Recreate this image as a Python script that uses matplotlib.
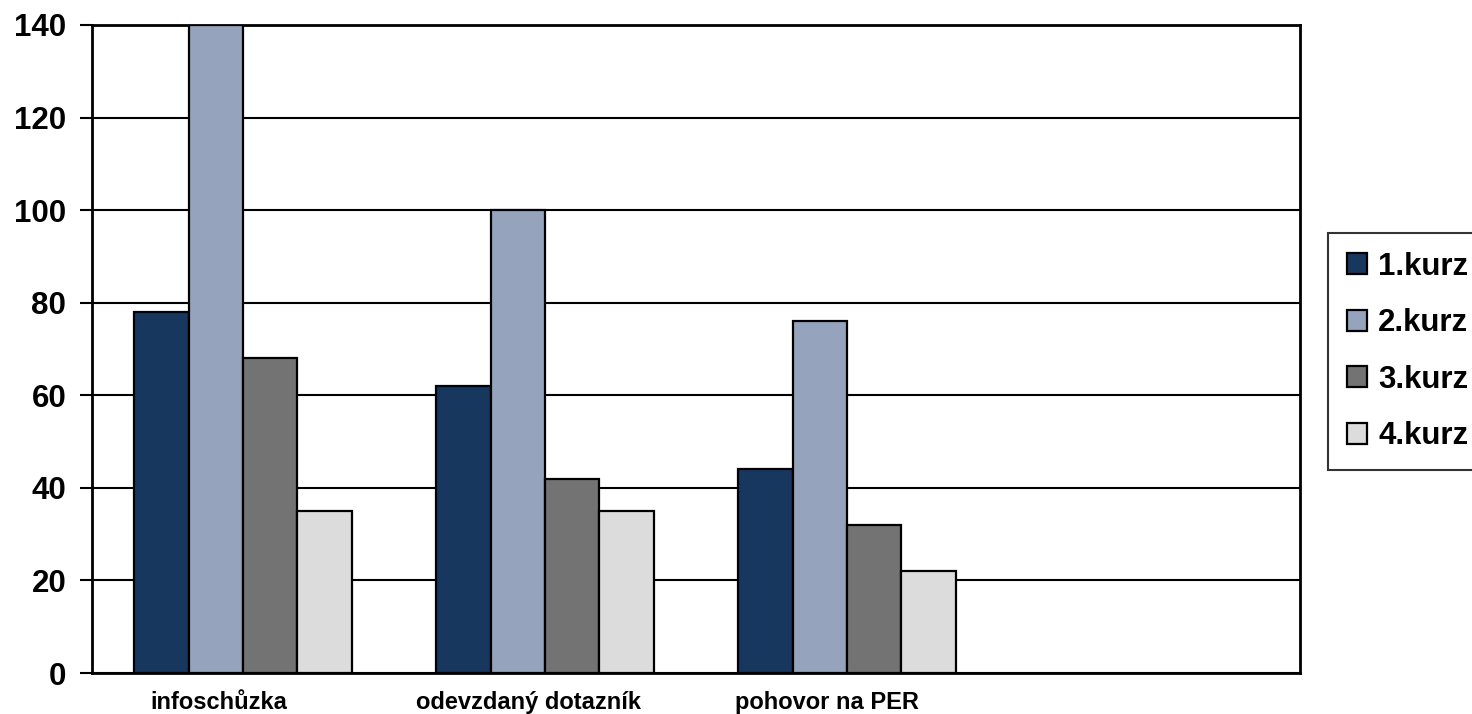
import numpy as np
import matplotlib
matplotlib.use('Agg')
import matplotlib.pyplot as plt

plt.rcParams['font.family'] = ['Liberation Sans', 'DejaVu Sans']
plt.rcParams['font.weight'] = 'bold'

# data
categories = ['infoschůzka', 'odevzdaný dotazník', 'pohovor na PER', '']
series_names = ['1.kurz', '2.kurz', '3.kurz', '4.kurz']
kurz1 = [78, 62, 44, 0]
kurz2 = [140, 100, 76, 0]
kurz3 = [68, 42, 32, 0]
kurz4 = [35, 35, 22, 0]
y_ticks = [0, 20, 40, 60, 80, 100, 120, 140]

series = [kurz1, kurz2, kurz3, kurz4]
colors = ['#17375E', '#95A3BC', '#737373', '#DCDCDC']

fig = plt.figure(figsize=(14.72, 7.14), dpi=100)
ax = fig.add_axes([0.0625, 0.0574, 0.8207, 0.9076])

x = np.arange(len(categories))
width = 0.18
offsets = (np.arange(len(series)) - 1.5) * width
for vals, name, col, off in zip(series, series_names, colors, offsets):
    n = 3  # last category slot is empty
    ax.bar(x[:n] + off, vals[:n], width, color=col, edgecolor='black',
           linewidth=1.6, label=name, zorder=3)

ax.set_xlim(-0.5, 3.5)
ax.set_ylim(0, 140)
ax.set_yticks(y_ticks)
ax.yaxis.grid(True, color='black', linewidth=1.5, zorder=0)
ax.set_axisbelow(True)

# category labels sit a little left of the group centres in the reference
label_pos = [-0.08, 0.945, 1.935]
ax.set_xticks(label_pos)
ax.set_xticklabels(categories[:3], fontsize=17, fontweight='bold')
ax.tick_params(axis='x', length=0, pad=13)
ax.tick_params(axis='y', length=8.6, width=1.5, pad=10, labelsize=22.5)
for lbl in ax.get_yticklabels():
    lbl.set_fontweight('bold')

for side in ['left', 'bottom', 'right', 'top']:
    ax.spines[side].set_linewidth(2)
    ax.spines[side].set_color('black')

leg = fig.legend(loc='upper left', bbox_to_anchor=(0.9022, 0.6737),
                 bbox_transform=fig.transFigure, fontsize=22.5, frameon=True,
                 fancybox=False, edgecolor='black', borderaxespad=0,
                 handlelength=0.65, handleheight=0.65, handletextpad=0.35,
                 labelspacing=0.85, borderpad=0.6)
leg.get_frame().set_linewidth(1.5)
for t in leg.get_texts():
    t.set_fontweight('bold')

fig.savefig('out.png', dpi=100)
